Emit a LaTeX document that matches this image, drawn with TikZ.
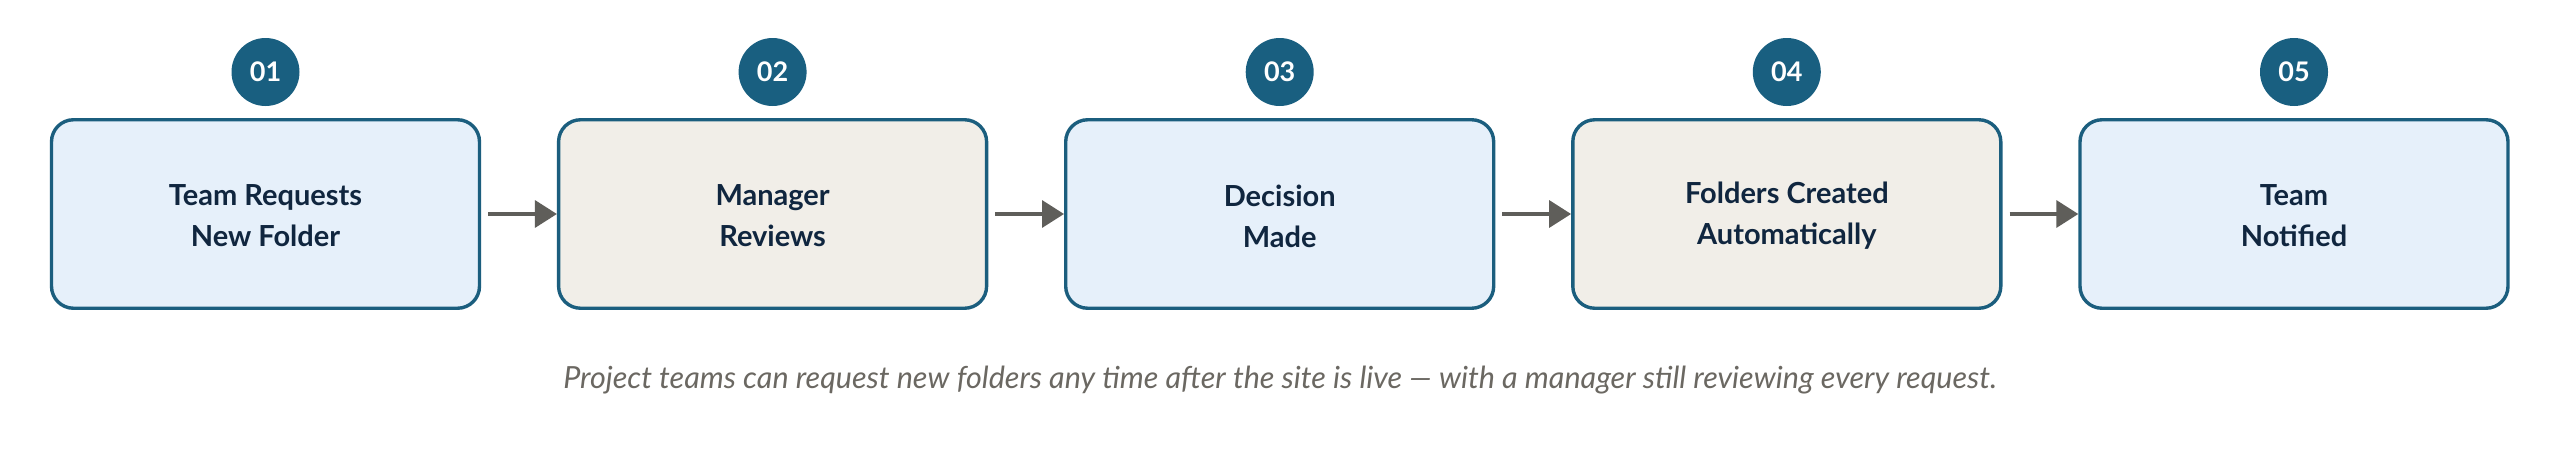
\documentclass[tikz,border=0pt]{standalone}
\usepackage{fontspec}
\setmainfont{Lato}
\usetikzlibrary{arrows.meta}
\definecolor{edgeblue}{HTML}{1B5E7E}
\definecolor{numfill}{HTML}{195F80}
\definecolor{fillblue}{HTML}{E6F0FA}
\definecolor{fillbeige}{HTML}{F1EEE8}
\definecolor{textnavy}{HTML}{10263F}
\definecolor{arrowgray}{HTML}{5F5E5A}
\definecolor{capgray}{HTML}{6B6862}
\tikzset{
  stepbox/.style={draw=edgeblue, line width=3.4pt, rounded corners=22pt,
    minimum width=428pt, minimum height=188.5pt},
  bluebox/.style={stepbox, fill=fillblue},
  beigebox/.style={stepbox, fill=fillbeige},
  numdot/.style={circle, fill=numfill, minimum size=68pt, inner sep=0pt,
    text=white, font=\fontsize{27}{30}\selectfont\bfseries},
  steptext/.style={align=center, text=textnavy,
    font=\fontsize{29}{41}\selectfont\bfseries},
  flowarrow/.style={draw=arrowgray, line width=3.5pt,
    -{Triangle[length=22pt,width=27pt]}},
}
\begin{document}
\begin{tikzpicture}[x=1pt,y=1pt]
\useasboundingbox (0,0) rectangle (2560,-463);
\fill[white] (0,0) rectangle (2560,-463);
\node[bluebox]  (b1) at (265.5,-214) {};
\node[beigebox] (b2) at (772.6,-214) {};
\node[bluebox]  (b3) at (1279.7,-214) {};
\node[beigebox] (b4) at (1786.8,-214) {};
\node[bluebox]  (b5) at (2294,-214) {};
\node[steptext] (t1) at ([yshift=-2pt]b1.center) {Team Requests\\New Folder};
\node[steptext] (t2) at ([yshift=-2pt]b2.center) {Manager\\Reviews};
\node[steptext] (t3) at ([yshift=-2pt]b3.center) {Decision\\Made};
\node[steptext] (t4) at ([yshift=-2pt]b4.center) {Folders Created\\Automatically};
\node[steptext] (t5) at ([yshift=-2pt]b5.center) {Team\\Notified};
\node[numdot] (n1) at (265.5,-72) {01};
\node[numdot] (n2) at (772.6,-72) {02};
\node[numdot] (n3) at (1279.7,-72) {03};
\node[numdot] (n4) at (1786.8,-72) {04};
\node[numdot] (n5) at (2294,-72) {05};
\draw[flowarrow] ([xshift=7pt]b1.east) -- (b2.west);
\draw[flowarrow] ([xshift=7pt]b2.east) -- (b3.west);
\draw[flowarrow] ([xshift=7pt]b3.east) -- (b4.west);
\draw[flowarrow] ([xshift=7pt]b4.east) -- (b5.west);
\node[text=capgray, font=\fontsize{30.5}{34}\selectfont\itshape] (cap) at (1280,-380)
  {Project teams can request new folders any time after the site is live — with a manager still reviewing every request.};
\end{tikzpicture}
\end{document}
